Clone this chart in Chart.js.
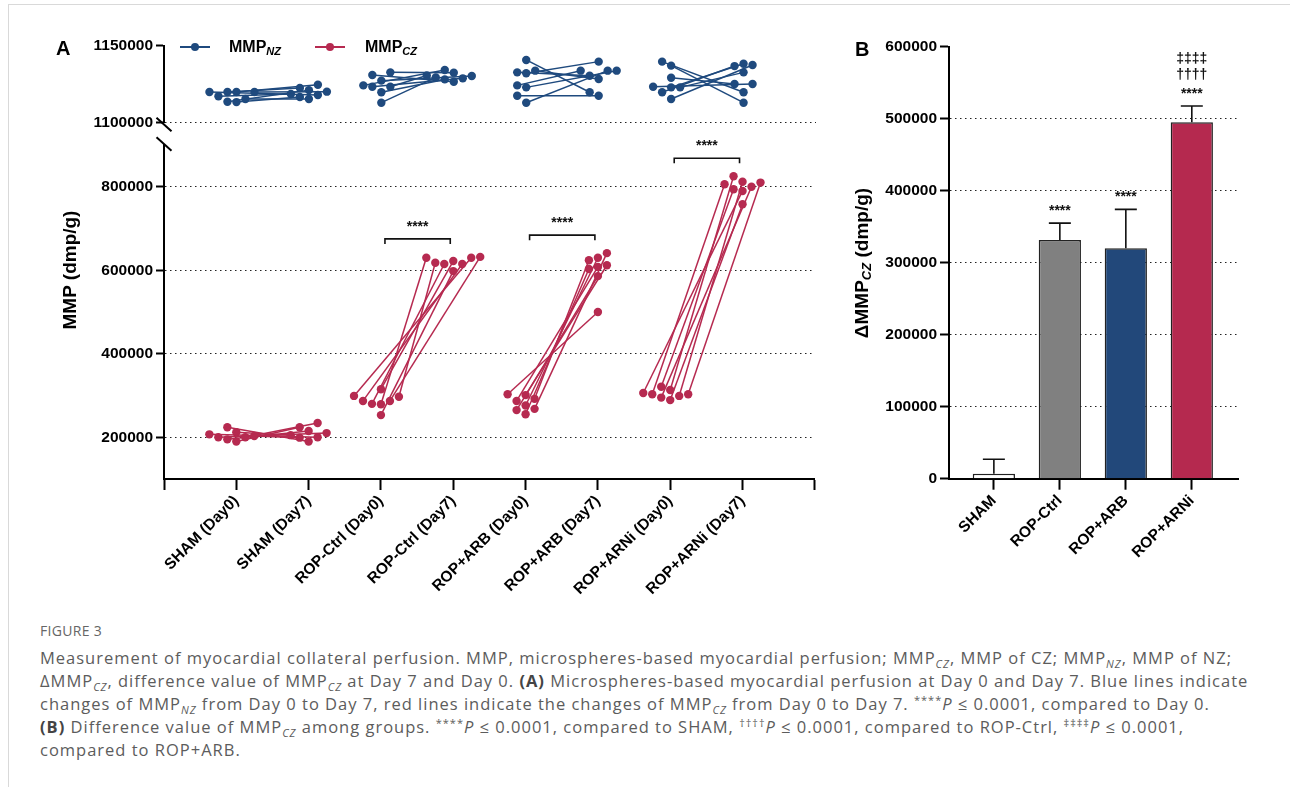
<!DOCTYPE html>
<html>
<head>
<meta charset="utf-8">
<script src="https://cdn.jsdelivr.net/npm/chart.js@4.4.0/dist/chart.umd.min.js"></script>
<style>
  html, body { margin: 0; padding: 0; background: #fff; }
  #page { position: relative; width: 1290px; height: 787px; overflow: hidden; font-family: 'Liberation Sans', Arial, sans-serif; }
  #frame { position: absolute; left: 8px; top: 4px; right: -2px; bottom: -2px; border-left: 1px solid #d9d9d9; border-top: 1px solid #d9d9d9; }
  canvas { position: absolute; }
  .lbl { position: absolute; font-weight: bold; color: #000; white-space: nowrap; line-height: 1; }
  .lbl sub { font-size: 11px; font-style: italic; vertical-align: -3px; }
  .ytitle { position: absolute; font-weight: bold; font-size: 19px; white-space: nowrap; line-height: 1; transform: translate(-50%, -50%) rotate(-90deg); }
  .ytitle sub { font-size: 13px; font-style: italic; vertical-align: -3px; }
  .legline { position: absolute; height: 2px; width: 30px; }
  .legdot { position: absolute; width: 8px; height: 8px; border-radius: 50%; }
  .cap { position: absolute; left: 40px; font-family: 'Open Sans', sans-serif; font-size: 16.5px; color: #5c5c5c; white-space: nowrap; line-height: 23px; }
  .cap sub, .cap sup { font-size: 11px; line-height: 0; }
  .cap sub { font-style: italic; }
  .cap b { color: #444; }
  .figno { position: absolute; left: 40px; top: 621px; font-family: 'Open Sans', sans-serif; font-size: 14px; color: #666; letter-spacing: 0.3px; }
</style>
</head>
<body>
<div id="page">
  <div id="frame"></div>
  <canvas id="chartTop" width="830" height="135" style="left:0;top:0"></canvas>
  <canvas id="chartLow" width="830" height="620" style="left:0;top:0"></canvas>
  <canvas id="chartB" width="460" height="620" style="left:830px;top:0"></canvas>

  <div class="lbl" style="left:56px;top:38px;font-size:20px">A</div>
  <div class="lbl" style="left:855px;top:39px;font-size:20px">B</div>
  <div class="ytitle" style="left:69px;top:270px">MMP (dmp/g)</div>
  <div class="ytitle" style="left:862px;top:263px">ΔMMP<sub>CZ</sub> (dmp/g)</div>

  <div class="legline" style="left:180px;top:46px;background:#1f4a7e"></div>
  <div class="legdot" style="left:191px;top:43px;background:#1f4a7e"></div>
  <div class="lbl" style="left:229px;top:39px;font-size:16px">MMP<sub>NZ</sub></div>
  <div class="legline" style="left:315px;top:46px;background:#b62a50"></div>
  <div class="legdot" style="left:326px;top:43px;background:#b62a50"></div>
  <div class="lbl" style="left:365px;top:39px;font-size:16px">MMP<sub>CZ</sub></div>

  <div class="figno">FIGURE 3</div>
  <div class="cap" style="top:646px">Measurement of myocardial collateral perfusion. MMP, microspheres-based myocardial perfusion; MMP<sub>CZ</sub>, MMP of CZ; MMP<sub>NZ</sub>, MMP of NZ;</div>
  <div class="cap" style="top:669px">ΔMMP<sub>CZ</sub>, difference value of MMP<sub>CZ</sub> at Day 7 and Day 0. <b>(A)</b> Microspheres-based myocardial perfusion at Day 0 and Day 7. Blue lines indicate</div>
  <div class="cap" style="top:692px">changes of MMP<sub>NZ</sub> from Day 0 to Day 7, red lines indicate the changes of MMP<sub>CZ</sub> from Day 0 to Day 7. <sup>****</sup><i>P</i> ≤ 0.0001, compared to Day 0.</div>
  <div class="cap" style="top:715px"><b>(B)</b> Difference value of MMP<sub>CZ</sub> among groups. <sup>****</sup><i>P</i> ≤ 0.0001, compared to SHAM, <sup>††††</sup><i>P</i> ≤ 0.0001, compared to ROP-Ctrl, <sup>‡‡‡‡</sup><i>P</i> ≤ 0.0001,</div>
  <div class="cap" style="top:738px">compared to ROP+ARB.</div>
</div>

<script>
// ---- data ----
const groups = ['SHAM', 'ROP-Ctrl', 'ROP+ARB', 'ROP+ARNi'];
const xLabels = ['SHAM (Day0)', 'SHAM (Day7)', 'ROP-Ctrl (Day0)', 'ROP-Ctrl (Day7)',
                 'ROP+ARB (Day0)', 'ROP+ARB (Day7)', 'ROP+ARNi (Day0)', 'ROP+ARNi (Day7)'];

// MMP_NZ (blue), one row per group, paired Day0 -> Day7
const nzDay0 = [
  [1119800, 1119800, 1119800, 1119800, 1115200, 1113200, 1113400, 1117000],
  [1124100, 1132600, 1123200, 1127200, 1119600, 1112800, 1130900, 1123200],
  [1140700, 1133700, 1112800, 1117300, 1124100, 1132000, 1132600, 1122800],
  [1139600, 1137000, 1129100, 1115200, 1119600, 1122800, 1122800, 1123200]
];
const nzDay7 = [
  [1124500, 1122400, 1120000, 1117800, 1115200, 1116500, 1121000, 1118500],
  [1134100, 1132400, 1128700, 1130200, 1128000, 1129300, 1126500, 1130500],
  [1119600, 1128300, 1133700, 1117300, 1133700, 1139600, 1130400, 1133700],
  [1119600, 1112800, 1125000, 1137400, 1136700, 1138200, 1132600, 1125000]
];
// MMP_CZ (red)
const czDay0 = [
  [200000, 200000, 207000, 224000, 190000, 212000, 195000, 203000],
  [287000, 299000, 280000, 315000, 279000, 253000, 287000, 297000],
  [303000, 292000, 268000, 287000, 255000, 301000, 265000, 276000],
  [303000, 321000, 299000, 313000, 289000, 306000, 295000, 303000]
];
const czDay7 = [
  [234000, 210000, 200000, 190000, 224000, 205000, 215000, 199000],
  [632000, 630000, 615000, 622000, 630000, 598000, 615000, 618000],
  [500000, 624000, 641000, 608000, 603000, 612000, 586000, 630000],
  [806000, 794000, 812000, 825000, 758000, 790000, 800000, 810000]
];
const sigA = ['', '****', '****', '****'];

const yTicksHigh = [1100000, 1150000];
const yTicksLow = [200000, 400000, 600000, 800000];

// panel B
const deltaMean = [7000, 331500, 320000, 495000];
const deltaSD = [20000, 23500, 54000, 22600];
const sigB = [[], ['****'], ['****'], ['****', '††††', '‡‡‡‡']];
const yTicksB = [0, 100000, 200000, 300000, 400000, 500000, 600000];

// ---- styles / layout ----
const BLUE = '#1f4a7e';
const RED = '#b62a50';
const BAR_COLORS = ['#ffffff', '#808080', '#22487a', '#b5294f'];
const INK = '#111';
const FAM = "'Liberation Sans', Arial, sans-serif";
const bold = size => ({ family: FAM, weight: 'bold', size });

Chart.defaults.animation = false;
Chart.defaults.color = '#000';

const AREA_L = 164, AREA_R = 816;          // panel A plot x-range (px)
const TOP_T = 45.7, TOP_B = 122.3;         // upper segment
const LOW_T = 145, LOW_B = 479;            // lower segment
const xPx = (AREA_R - AREA_L) / 9;
const COL = 9 / xPx;                       // dot column step in x units

// simple beeswarm: spread dots sideways when they would overlap
function swarm(values, pxPerValue) {
  const order = values.map((v, i) => i).sort((a, b) => values[a] - values[b]);
  const placed = [];
  const cols = [];
  order.forEach(i => {
    for (let k = 0; k < 15; k++) {
      const c = k === 0 ? 0 : (k % 2 ? -(k + 1) / 2 : k / 2);
      const hit = placed.some(p => p.c === c && Math.abs(p.v - values[i]) * pxPerValue < 8.5);
      if (!hit) { cols[i] = c; placed.push({ c, v: values[i] }); break; }
    }
  });
  return cols.map(c => c * COL);
}

function pairSets(day0, day7, color, pxPerValue) {
  const sets = [];
  day0.forEach((row, g) => {
    const o0 = swarm(row, pxPerValue);
    const o7 = swarm(day7[g], pxPerValue);
    row.forEach((v, i) => {
      sets.push({
        data: [{ x: 2 * g + 1 + o0[i], y: v }, { x: 2 * g + 2 + o7[i], y: day7[g][i] }],
        borderColor: color, backgroundColor: color, borderWidth: 1.5,
        pointRadius: 4.2, pointBorderWidth: 0, pointBackgroundColor: color
      });
    });
  });
  return sets;
}

const xTickVals = [0, 1, 2, 3, 4, 5, 6, 7, 8, 9];
function xAxisA(show) {
  return {
    type: 'linear', min: 0, max: 9, display: show,
    afterBuildTicks: s => { s.ticks = xTickVals.map(v => ({ value: v })); },
    afterFit: s => { s.height = show ? 130 : 0; },
    ticks: { autoSkip: false, minRotation: 45, maxRotation: 45, padding: 2, font: bold(15.5),
             callback: v => xLabels[Math.round(v) - 1] || '' },
    grid: { drawOnChartArea: false, tickLength: 11, tickWidth: 2, tickColor: '#000' },
    border: { display: true, color: '#000', width: 2 }
  };
}
function yAxis(min, max, ticks, width, tickLen, hidden) {
  return {
    type: 'linear', min, max,
    afterBuildTicks: s => { s.ticks = ticks.map(v => ({ value: v })); },
    afterFit: s => { s.width = width; },
    ticks: { font: bold(15.5), padding: 3, callback: v => String(v) },
    grid: { color: c => (c.tick && hidden.includes(c.tick.value)) ? 'rgba(0,0,0,0)' : '#222',
            lineWidth: 1, tickLength: tickLen, tickWidth: 2, tickColor: '#000' },
    border: { display: true, color: '#000', width: 2, dash: [1.5, 3.5] }
  };
}

function slash(ctx, x, y) {
  ctx.save();
  ctx.strokeStyle = '#000'; ctx.lineWidth = 2;
  ctx.beginPath(); ctx.moveTo(x - 7.5, y - 6.8); ctx.lineTo(x + 7.5, y + 6.8); ctx.stroke();
  ctx.restore();
}

const breakTop = { id: 'breakTop', afterDraw(c) { slash(c.ctx, c.chartArea.left, c.chartArea.bottom + 2.2); } };
const breakLow = { id: 'breakLow', afterDraw(c) { slash(c.ctx, c.chartArea.left, c.chartArea.top - 1); } };

const bracketPlugin = {
  id: 'brackets',
  afterDatasetsDraw(chart) {
    const { ctx, scales: { x, y } } = chart;
    ctx.save();
    ctx.strokeStyle = INK; ctx.fillStyle = INK; ctx.lineWidth = 1.6;
    ctx.font = 'bold 14px ' + FAM; ctx.textAlign = 'center';
    groups.forEach((g, gi) => {
      if (!sigA[gi]) return;
      const xa = x.getPixelForValue(2 * gi + 1) + 4;
      const xb = x.getPixelForValue(2 * gi + 2) - 3;
      const top = y.getPixelForValue(Math.max(...czDay7[gi])) - 18;
      ctx.beginPath();
      ctx.moveTo(xa, top + 5); ctx.lineTo(xa, top); ctx.lineTo(xb, top); ctx.lineTo(xb, top + 5);
      ctx.stroke();
      ctx.fillText(sigA[gi], (xa + xb) / 2, top - 8);
    });
    ctx.restore();
  }
};

new Chart(document.getElementById('chartTop'), {
  type: 'line',
  data: { datasets: pairSets(nzDay0, nzDay7, BLUE, (TOP_B - TOP_T) / 50000) },
  options: {
    responsive: false,
    layout: { padding: { left: AREA_L - 100, right: 830 - AREA_R, top: TOP_T, bottom: 135 - TOP_B } },
    plugins: { legend: { display: false }, tooltip: { enabled: false } },
    scales: { x: xAxisA(false), y: yAxis(1100000, 1150000, yTicksHigh, 100, 8, [1150000]) }
  },
  plugins: [breakTop]
});

new Chart(document.getElementById('chartLow'), {
  type: 'line',
  data: { datasets: pairSets(czDay0, czDay7, RED, (LOW_B - LOW_T) / 800000) },
  options: {
    responsive: false,
    layout: { padding: { left: AREA_L - 100, right: 830 - AREA_R, top: LOW_T, bottom: 620 - LOW_B - 130 } },
    plugins: { legend: { display: false }, tooltip: { enabled: false } },
    scales: { x: xAxisA(true), y: yAxis(100000, 900000, yTicksLow, 100, 8, []) }
  },
  plugins: [breakLow, bracketPlugin]
});

// ---- panel B ----
const errorPlugin = {
  id: 'errorBars',
  afterDatasetsDraw(chart) {
    const { ctx, scales: { x, y } } = chart;
    ctx.save();
    ctx.strokeStyle = INK; ctx.fillStyle = INK; ctx.lineWidth = 1.6;
    ctx.textAlign = 'center';
    deltaMean.forEach((m, i) => {
      const px = x.getPixelForValue(i);
      const y0 = y.getPixelForValue(m);
      const y1 = y.getPixelForValue(m + deltaSD[i]);
      ctx.beginPath();
      ctx.moveTo(px, y0); ctx.lineTo(px, y1);
      ctx.moveTo(px - 11, y1); ctx.lineTo(px + 11, y1);
      ctx.stroke();
      sigB[i].forEach((s, k) => {
        ctx.font = 'bold 14px ' + FAM;
        const cy = y1 - 16 - k * 16;
        ctx.fillText(s, px, s[0] === '*' ? cy + 8 : cy + 5);
      });
    });
    ctx.restore();
  }
};

new Chart(document.getElementById('chartB'), {
  type: 'bar',
  data: {
    datasets: [{
      data: deltaMean.map((v, i) => ({ x: i, y: v })),
      backgroundColor: BAR_COLORS, borderColor: '#222', borderWidth: 1.5,
      categoryPercentage: 0.8, barPercentage: 0.8
    }]
  },
  options: {
    responsive: false,
    layout: { padding: { left: 29, right: 52, top: 46.7, bottom: 620 - 478.7 - 120 } },
    plugins: { legend: { display: false }, tooltip: { enabled: false } },
    scales: {
      x: {
        type: 'linear', min: -0.68, max: 3.7, offset: false,
        afterBuildTicks: s => { s.ticks = groups.map((g, i) => ({ value: i })); },
        afterFit: s => { s.height = 120; },
        ticks: { autoSkip: false, minRotation: 45, maxRotation: 45, padding: 2, font: bold(15.5),
                 callback: v => groups[Math.round(v)] || '' },
        grid: { offset: false, drawOnChartArea: false, tickLength: 11, tickWidth: 2, tickColor: '#000' },
        border: { display: true, color: '#000', width: 2 }
      },
      y: yAxis(0, 600000, yTicksB, 90, 9, [0, 600000])
    }
  },
  plugins: [errorPlugin]
});

// stretch caption lines to the width of the printed caption
const caps = document.querySelectorAll('.cap');
const natural = caps[0].getBoundingClientRect().width;
const spacing = (1192 - natural) / caps[0].textContent.length;
caps.forEach(el => { el.style.letterSpacing = spacing.toFixed(3) + 'px'; });
</script>
</body>
</html>
